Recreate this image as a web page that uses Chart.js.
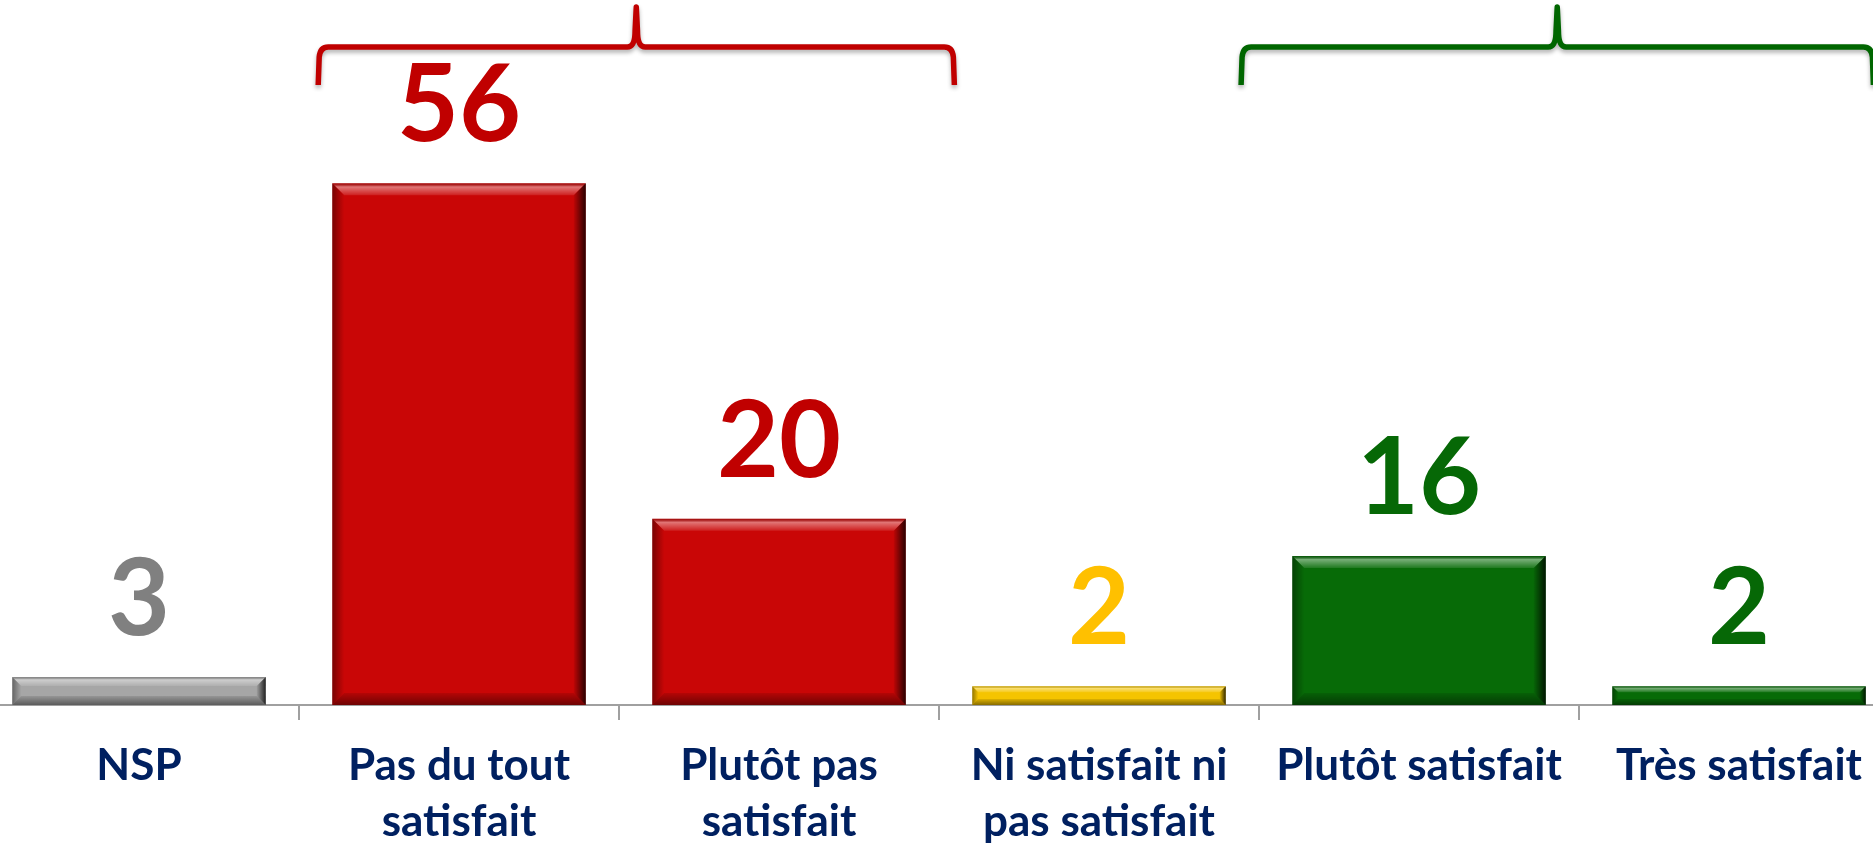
<!DOCTYPE html>
<html><head><meta charset="utf-8">
<script src="https://cdn.jsdelivr.net/npm/chart.js@4.4.1/dist/chart.umd.min.js"></script>
<style>
html,body{margin:0;padding:0;background:#fff;overflow:hidden;width:1873px;height:848px;}
#wrap{position:absolute;left:-21px;top:0;width:1920px;height:848px;}
</style></head><body>
<div id="wrap"><canvas id="c"></canvas></div>
<script>
// ---- data ----
const categories = [["NSP"], ["Pas du tout", "satisfait"], ["Plutôt pas", "satisfait"], ["Ni satisfait ni", "pas satisfait"], ["Plutôt satisfait"], ["Très satisfait"]];
const values = [3, 56, 20, 2, 16, 2];
const barColors = ['#A6A6A6', '#C90606', '#C90606', '#F5C400', '#076B07', '#076B07'];
const labelColors = ['#808080', '#C00000', '#C00000', '#FFC000', '#066806', '#066806'];
const groupRanges = [[1, 2], [4, 5]];
const groupColors = ['#C00000', '#006600'];

const FONT = 'Lato, "Open Sans", "Noto Sans", sans-serif';

function poly(ctx, pts, fill) {
  ctx.beginPath();
  ctx.moveTo(pts[0][0], pts[0][1]);
  for (let i = 1; i < pts.length; i++) ctx.lineTo(pts[i][0], pts[i][1]);
  ctx.closePath();
  ctx.fillStyle = fill;
  ctx.fill();
}

const bevelPlugin = {
  id: 'bevel',
  afterDatasetsDraw(chart) {
    const ctx = chart.ctx;
    const meta = chart.getDatasetMeta(0);
    ctx.save();
    meta.data.forEach((bar) => {
      const p = bar.getProps(['x', 'y', 'base', 'width'], true);
      const l = p.x - p.width / 2, r = p.x + p.width / 2, t = p.y, b = p.base;
      const h = b - t;
      const e = Math.min(12, h * 0.32);
      let g = ctx.createLinearGradient(0, t, 0, t + e);
      g.addColorStop(0, 'rgba(0,0,0,0.18)');
      g.addColorStop(0.3, 'rgba(255,255,255,0.45)');
      g.addColorStop(1, 'rgba(255,255,255,0.1)');
      poly(ctx, [[l, t], [r, t], [r - e, t + e], [l + e, t + e]], g);
      g = ctx.createLinearGradient(r - e, 0, r, 0);
      g.addColorStop(0, 'rgba(0,0,0,0.05)');
      g.addColorStop(1, 'rgba(0,0,0,0.8)');
      poly(ctx, [[r, t], [r, b], [r - e, b - e], [r - e, t + e]], g);
      g = ctx.createLinearGradient(0, b - e, 0, b);
      g.addColorStop(0, 'rgba(0,0,0,0.1)');
      g.addColorStop(1, 'rgba(0,0,0,0.45)');
      poly(ctx, [[l, b], [r, b], [r - e, b - e], [l + e, b - e]], g);
      g = ctx.createLinearGradient(l, 0, l + e, 0);
      g.addColorStop(0, 'rgba(0,0,0,0.4)');
      g.addColorStop(1, 'rgba(0,0,0,0.0)');
      poly(ctx, [[l, t], [l + e, t + e], [l + e, b - e], [l, b]], g);
    });
    ctx.restore();
  }
};

const valueLabelPlugin = {
  id: 'valueLabels',
  afterDatasetsDraw(chart) {
    const ctx = chart.ctx;
    const meta = chart.getDatasetMeta(0);
    ctx.save();
    ctx.font = '700 107px ' + FONT;
    ctx.textAlign = 'center';
    ctx.textBaseline = 'alphabetic';
    meta.data.forEach((bar, i) => {
      ctx.fillStyle = labelColors[i];
      ctx.fillText(String(values[i]), bar.x, bar.y - 42);
    });
    ctx.restore();
  }
};

const bracketPlugin = {
  id: 'brackets',
  afterDraw(chart) {
    const ctx = chart.ctx;
    const xs = chart.scales.x;
    const cw = xs.width / categories.length;
    const offs = [[0.06, 0.048], [-0.056, -0.08]];
    const yLine = 47, yTip = 7, yEnd = 85, rad = 10;
    ctx.save();
    groupRanges.forEach((g, k) => {
      const L = xs.getPixelForValue(g[0]) - cw / 2 + offs[k][0] * cw;
      const R = xs.getPixelForValue(g[1]) + cw / 2 + offs[k][1] * cw;
      const M = (L + R) / 2;
      ctx.beginPath();
      ctx.moveTo(L, yEnd);
      ctx.lineTo(L + 1, yLine + rad);
      ctx.quadraticCurveTo(L + 2, yLine, L + rad, yLine);
      ctx.lineTo(M - 9, yLine);
      ctx.quadraticCurveTo(M - 1.2, yLine, M - 1.2, yLine - 16);
      ctx.lineTo(M, yTip);
      ctx.lineTo(M + 1.2, yLine - 16);
      ctx.quadraticCurveTo(M + 1.2, yLine, M + 9, yLine);
      ctx.lineTo(R - rad, yLine);
      ctx.quadraticCurveTo(R - 2, yLine, R - 1, yLine + rad);
      ctx.lineTo(R, yEnd);
      ctx.strokeStyle = groupColors[k];
      ctx.lineWidth = 5.5;
      ctx.lineJoin = 'round';
      ctx.lineCap = 'butt';
      ctx.shadowColor = 'rgba(0,0,0,0.3)';
      ctx.shadowBlur = 4;
      ctx.shadowOffsetY = 3;
      ctx.stroke();
    });
    ctx.restore();
  }
};

function build() {
  new Chart(document.getElementById('c'), {
    type: 'bar',
    data: {
      labels: categories,
      datasets: [{
        data: values,
        backgroundColor: barColors,
        borderWidth: 0,
        barPercentage: 0.792,
        categoryPercentage: 1.0
      }]
    },
    options: {
      responsive: true,
      maintainAspectRatio: false,
      animation: false,
      events: [],
      layout: { padding: { top: 57.5, left: 0, right: 0, bottom: 0 } },
      plugins: { legend: { display: false }, tooltip: { enabled: false }, title: { display: false } },
      scales: {
        x: {
          afterFit(s) { s.height = 143; },
          grid: { display: true, drawOnChartArea: false, drawTicks: true, tickLength: 15, color: '#A0A0A0', lineWidth: 2, offset: true },
          border: { display: true, color: '#A0A0A0', width: 2 },
          ticks: {
            autoSkip: false, maxRotation: 0, minRotation: 0, padding: 18,
            color: '#002060',
            font: { family: FONT, weight: '700', size: 44, lineHeight: 1.273 }
          }
        },
        y: { display: false, min: 0, max: 69.5 }
      }
    },
    plugins: [bevelPlugin, valueLabelPlugin, bracketPlugin]
  });
}
if (document.fonts && document.fonts.load) {
  Promise.all([document.fonts.load('700 44px Lato'), document.fonts.load('700 107px Lato')]).finally(build);
} else { build(); }
</script>
</body></html>
